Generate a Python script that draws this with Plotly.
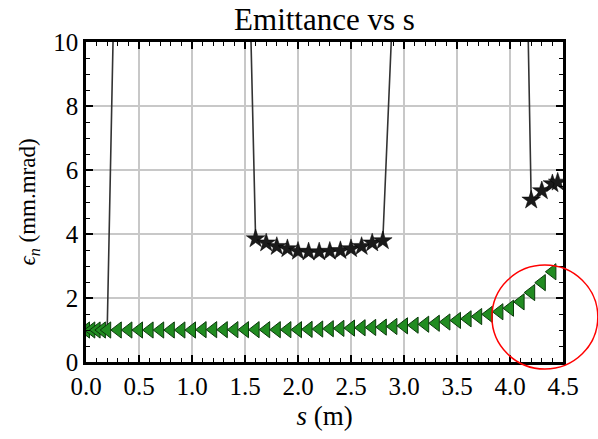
import plotly.graph_objects as go

# Green series (triangles)
s_green = [0.0, 0.05, 0.1, 0.15, 0.2, 0.3, 0.4, 0.5, 0.6, 0.7, 0.8, 0.9, 1.0,
           1.1, 1.2, 1.3, 1.4, 1.5, 1.6, 1.7, 1.8, 1.9, 2.0,
           2.1, 2.2, 2.3, 2.4, 2.5, 2.6, 2.7, 2.8, 2.9, 3.0,
           3.1, 3.2, 3.3, 3.4, 3.5, 3.6, 3.7, 3.8, 3.9, 4.0,
           4.1, 4.2, 4.3, 4.4]
eps_green = [1.00, 1.00, 1.00, 1.00, 1.00, 1.00, 1.00, 1.00, 1.00, 1.00, 1.00, 1.00, 1.00,
             1.01, 1.01, 1.01, 1.01, 1.01, 1.01, 1.01, 1.01, 1.01, 1.01,
             1.02, 1.03, 1.04, 1.05, 1.06, 1.07, 1.08, 1.09, 1.11, 1.13,
             1.15, 1.18, 1.21, 1.25, 1.30, 1.35, 1.42, 1.49, 1.57, 1.68,
             1.88, 2.17, 2.48, 2.82]

# Black series (stars) - values above 10 are off-scale
s_black = [0.0, 0.1, 0.2, 0.3, 0.4, 0.5, 0.6, 0.7, 0.8, 0.9, 1.0,
           1.1, 1.2, 1.3, 1.4, 1.5, 1.6, 1.7, 1.8, 1.9, 2.0,
           2.1, 2.2, 2.3, 2.4, 2.5, 2.6, 2.7, 2.8, 2.9, 3.0,
           3.1, 3.2, 3.3, 3.4, 3.5, 3.6, 3.7, 3.8, 3.9, 4.0,
           4.1, 4.2, 4.3, 4.4, 4.45]
eps_black = [1.00, 1.00, 1.00, 17.4, 40.0, 60.0, 70.0, 75.0, 70.0, 60.0, 50.0,
             40.0, 35.0, 30.0, 25.0, 18.1, 3.85, 3.72, 3.61, 3.54, 3.46,
             3.44, 3.44, 3.46, 3.48, 3.54, 3.61, 3.72, 3.79, 11.6, 25.0,
             35.0, 40.0, 45.0, 50.0, 50.0, 45.0, 40.0, 35.0, 30.0, 27.0,
             23.0, 5.06, 5.35, 5.57, 5.62]

x_ticks = [0.0, 0.5, 1.0, 1.5, 2.0, 2.5, 3.0, 3.5, 4.0, 4.5]
y_ticks = [0, 2, 4, 6, 8, 10]

FONT = "Liberation Serif"

# star markers are only seen where the black curve is separated from the green one
star_shown = [i for i, s in enumerate(s_black) if s >= 0.5]

fig = go.Figure()
fig.add_trace(go.Scatter(
    x=s_black, y=eps_black, mode="lines+markers",
    line=dict(color="#333333", width=1.6),
    marker=dict(symbol="star", size=14, color="#1a1a1a",
                line=dict(color="#000000", width=0.5)),
    selectedpoints=star_shown,
    selected=dict(marker=dict(opacity=1)),
    unselected=dict(marker=dict(opacity=0)),
    showlegend=False,
))
fig.add_trace(go.Scatter(
    x=s_green, y=eps_green, mode="markers",
    marker=dict(symbol="triangle-left", size=14, color="#218c21",
                line=dict(color="#0b3a0b", width=1)),
    showlegend=False,
))

axis_common = dict(
    showline=True, linecolor="black", linewidth=2.5, mirror="allticks",
    ticks="inside", ticklen=7, tickwidth=1.5, tickcolor="black",
    showgrid=True, gridcolor="#c8c8c8", gridwidth=1.5,
    zeroline=False,
    tickfont=dict(family=FONT, size=25, color="black"),
)

fig.update_xaxes(
    range=[0, 4.5], tickvals=x_ticks, ticktext=[f"{v:.1f}" for v in x_ticks],
    minor=dict(ticks="inside", dtick=0.1, ticklen=4, tickcolor="black", tickwidth=1, showgrid=False),
    title=dict(text="<i>s</i> (m)", font=dict(family=FONT, size=27, color="black"), standoff=8),
    **axis_common,
)
fig.update_yaxes(
    range=[0, 10], tickvals=y_ticks, ticktext=[str(v) for v in y_ticks],
    minor=dict(ticks="inside", dtick=0.5, ticklen=4, tickcolor="black", tickwidth=1, showgrid=False),
    title=dict(text="<i>ϵ</i><sub><i>n</i></sub> (mm.mrad)", font=dict(family=FONT, size=23, color="black"), standoff=12),
    **axis_common,
)

fig.add_shape(type="circle", xref="paper", yref="paper",
              x0=0.851, x1=1.073, y0=-0.022, y1=0.303,
              line=dict(color="red", width=1.5), layer="above")

fig.update_layout(
    width=598, height=439,
    margin=dict(l=86, r=35, t=42, b=74),
    paper_bgcolor="white", plot_bgcolor="white",
    title=dict(text="Emittance vs s", x=0.5, xref="paper", xanchor="center",
               y=1 - 19 / 439, yref="container", yanchor="middle",
               font=dict(family=FONT, size=31, color="black")),
)

fig.write_html("out.html")
